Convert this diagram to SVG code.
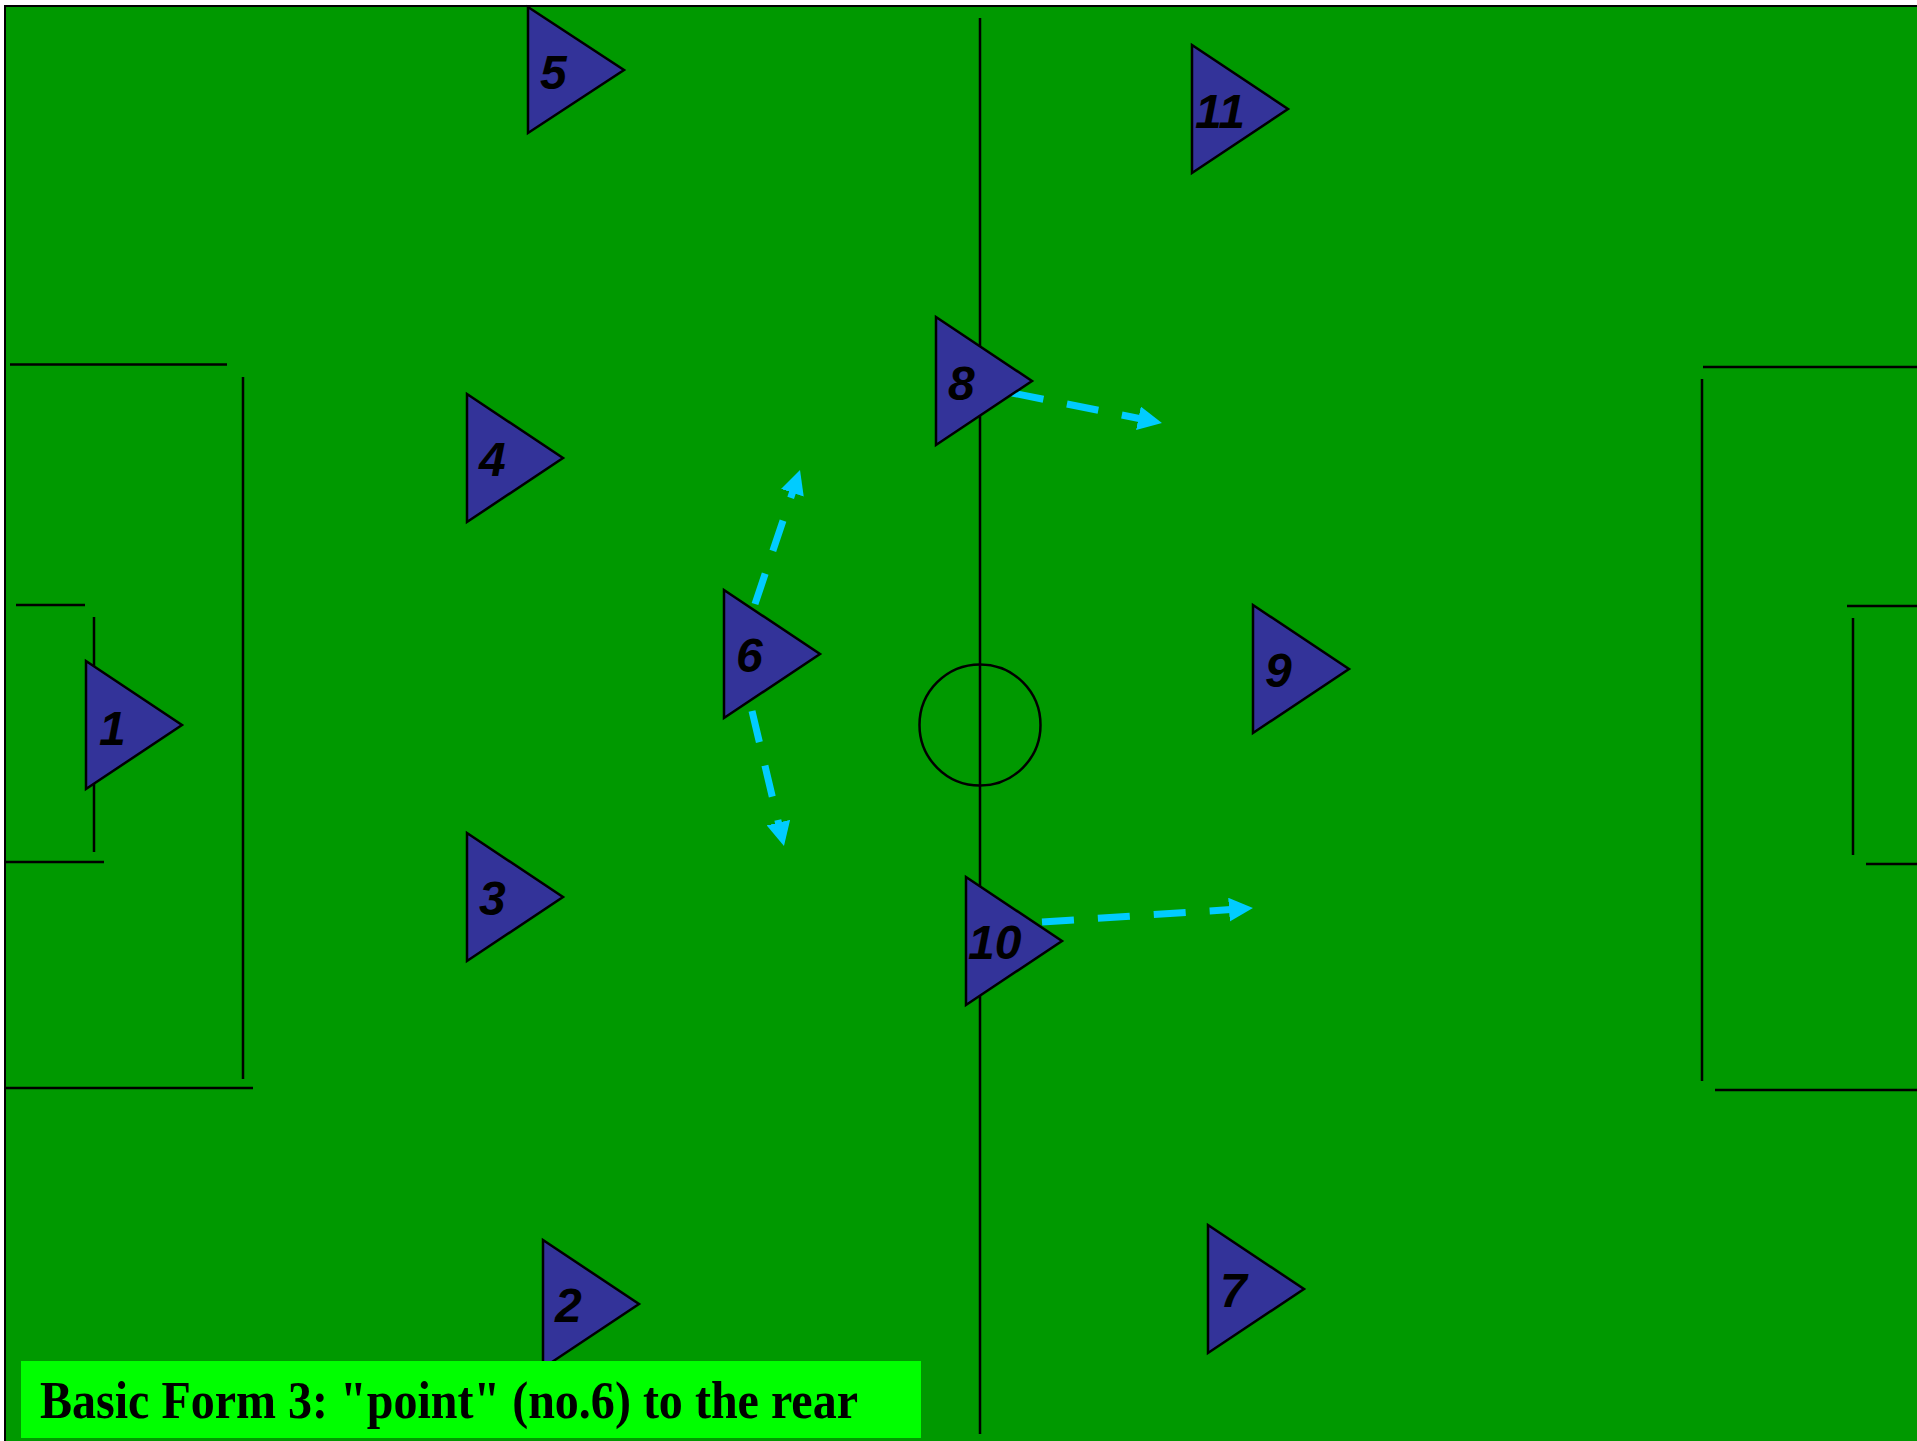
<svg xmlns="http://www.w3.org/2000/svg" width="1917" height="1441" viewBox="0 0 1917 1441">
<style>
.ln{stroke:#000;stroke-width:2.5;fill:none}
.pl polygon{fill:#333399;stroke:#000;stroke-width:2.5;stroke-linejoin:miter}
.pl text{font-family:"Liberation Sans",Arial,sans-serif;font-weight:bold;font-style:italic;font-size:48px;fill:#000}
.ar{stroke:#00CCFF;stroke-width:7;stroke-dasharray:32 24;fill:none;marker-end:url(#ah)}
</style>
<defs>
<marker id="ah" markerUnits="userSpaceOnUse" markerWidth="24" markerHeight="24" refX="2" refY="12" orient="auto">
<path d="M0,0 L24,12 L0,24 z" fill="#00CCFF"/>
</marker>
</defs>
<rect width="1917" height="1441" fill="#fff"/>
<g id="pitch">
<rect x="5" y="6" width="1930" height="1440" fill="#009900" stroke="#000" stroke-width="2"/>
<line class="ln" x1="980" y1="18" x2="980" y2="1434"/>
<circle class="ln" cx="980" cy="725" r="60.5" stroke-width="2.2"/>
<line class="ln" x1="10" y1="364.5" x2="227" y2="364.5"/>
<line class="ln" x1="243" y1="377" x2="243" y2="1079"/>
<line class="ln" x1="6" y1="1088" x2="253" y2="1088"/>
<line class="ln" x1="16" y1="605" x2="85" y2="605"/>
<line class="ln" x1="94" y1="617" x2="94" y2="852"/>
<line class="ln" x1="6" y1="862" x2="104" y2="862"/>
<line class="ln" x1="1703" y1="367" x2="1917" y2="367"/>
<line class="ln" x1="1702" y1="379" x2="1702" y2="1081"/>
<line class="ln" x1="1715" y1="1090" x2="1917" y2="1090"/>
<line class="ln" x1="1847" y1="606" x2="1917" y2="606"/>
<line class="ln" x1="1853" y1="618" x2="1853" y2="855"/>
<line class="ln" x1="1866" y1="864" x2="1917" y2="864"/>
</g>
<g id="connectors">
<path class="ar" d="M1042,922 L1231,909.5"/>
<path class="ar" d="M1012,393 L1140.4,418.7"/>
<path class="ar" d="M755,604 L793,490.9"/>
<path class="ar" d="M752,711 L778.9,824.6"/>
</g>
<g class="pl">
<g id="p1"><polygon points="86,661 182,725 86,789"/><text x="99" y="745">1</text></g>
<g id="p2"><polygon points="543,1240 639,1304 543,1368"/><text x="555" y="1322">2</text></g>
<g id="p3"><polygon points="467,833 563,897 467,961"/><text x="479" y="915">3</text></g>
<g id="p4"><polygon points="467,394 563,458 467,522"/><text x="479" y="476">4</text></g>
<g id="p5"><polygon points="528,7 624,70 528,133"/><text x="540" y="89">5</text></g>
<g id="p6"><polygon points="724,590 820,654 724,718"/><text x="736" y="672">6</text></g>
<g id="p7"><polygon points="1208,1225 1304,1289 1208,1353"/><text x="1220" y="1307">7</text></g>
<g id="p8"><polygon points="936,317 1032,381 936,445"/><text x="948" y="400">8</text></g>
<g id="p9"><polygon points="1253,605 1349,669 1253,733"/><text x="1265" y="687">9</text></g>
<g id="p10"><polygon points="966,877 1062,941 966,1005"/><text x="968" y="959">10</text></g>
<g id="p11"><polygon points="1192,45 1288,109 1192,173"/><text x="1195" y="128">11</text></g>
</g>
<g id="caption">
<rect x="21" y="1361" width="900" height="77" fill="#00FF00"/>
<text x="40" y="1418" font-family="'Liberation Serif','Times New Roman',serif" font-weight="bold" font-size="53" textLength="818" lengthAdjust="spacingAndGlyphs">Basic Form 3: "point" (no.6) to the rear</text>
</g>
</svg>
